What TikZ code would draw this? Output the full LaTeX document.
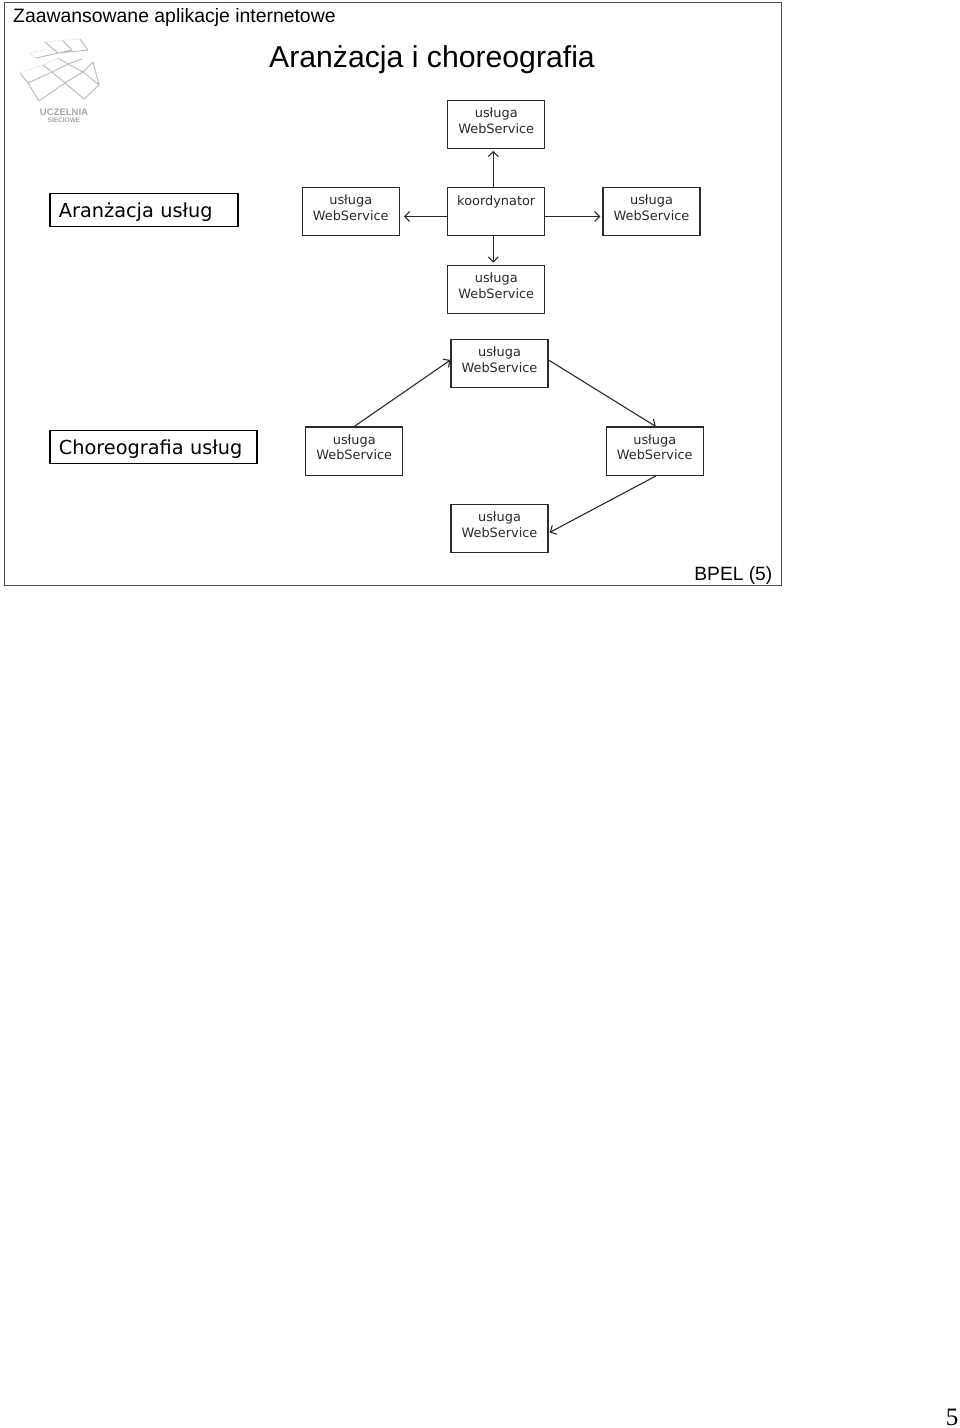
\documentclass[tikz,border=0pt]{standalone}
\usepackage{fontspec}
\setmainfont{Liberation Sans}
\newfontfamily\boxfont{DejaVu Sans}
\newfontfamily\serfont{Liberation Serif}
\usetikzlibrary{arrows.meta}
\definecolor{ink}{HTML}{2A2A2A}
\newcommand{\wstxt}{\begin{tabular}{@{}c@{}}usługa\\WebService\\[4pt]\end{tabular}}
\newcommand{\lowertxt}[1]{\raisebox{0pt}[\dimexpr\height+4pt\relax][\depth]{\hspace*{4pt}#1}}
\tikzset{
  ws/.style={draw=ink,line width=1.1pt,minimum width=97pt,minimum height=48.5pt,inner sep=0pt,align=center,
    font=\boxfont\fontsize{12.9}{15.2}\selectfont,text=ink},
  lab/.style={draw=black,line width=1.9pt,inner sep=0pt,anchor=west,font=\boxfont\fontsize{19.3}{23}\selectfont,text=black},
  arr/.style={draw=ink,line width=1.1pt,-{Straight Barb[length=5pt,width=10pt,line width=1.1pt]}},
  logoline/.style={draw=gray!55,line width=.9pt},
  logodot/.style={draw=gray!40,line width=.7pt,densely dotted}
}
\begin{document}
\begin{tikzpicture}[x=1pt,y=-1pt]
\useasboundingbox (0,0) rectangle (960,1428);
\fill[white] (0,0) rectangle (960,1428);
\node[draw=gray!60!black,line width=1.2pt,minimum width=777pt,minimum height=583pt,inner sep=0pt] (frame) at (393,294) {};
\node[anchor=base west,inner sep=0pt,font=\fontsize{19.4}{22}\selectfont] (head) at (13,22.5) {Zaawansowane aplikacje internetowe};
\node[anchor=base,font=\fontsize{30.2}{35}\selectfont] (title) at (432,67) {Aranżacja i choreografia};
\node[anchor=base east,inner sep=0pt,font=\fontsize{19.2}{23}\selectfont] (bpel) at (772.5,580) {BPEL (5)};
\node[anchor=base east,inner sep=0pt,font=\serfont\fontsize{25}{29}\selectfont] (pg) at (958.5,1425) {5};
% logo
\draw[logoline] (39,101) -- (65,83) -- (83,72) -- (93,62)
  (28,83) -- (52,72) -- (68,64) -- (82,59)
  (20,73) -- (28,83) -- (39,101)
  (43,65) -- (52,72) -- (65,83) -- (84,99)
  (58,58) -- (68,64) -- (83,72) -- (99,85)
  (84,99) -- (99,85) -- (93,62)
  (36,58) -- (58,53) -- (88,50)
  (58,53) -- (72,50)
  (45,42) -- (58,53) (62,40) -- (72,50) (80,39) -- (88,50);
\draw[logodot] (20,73) -- (43,65) -- (58,58) (30,53) -- (45,50) -- (62,50) (45,42) -- (80,39) (30,53) -- (36,58);
\node[font=\fontsize{9.5}{9.5}\selectfont\bfseries,text=gray!70,inner sep=0pt] (logoa) at (64,112) {UCZELNIA};
\node[font=\fontsize{6.5}{6.5}\selectfont\bfseries,text=gray!70,inner sep=0pt] (logob) at (64,120) {SIECIOWE};
% labels
\node[lab,minimum width=188pt,minimum height=33pt,text width=178pt] (l1) at (49,210) {\lowertxt{Aranżacja usług}};
\node[lab,minimum width=207pt,minimum height=33pt,text width=197pt] (l2) at (49,447) {\lowertxt{Choreografia usług}};
% orchestration
\node[ws] (top) at (496.25,124.5) {\wstxt};
\node[ws] (ko) at (496.25,211.5) {\raisebox{22pt}{koordynator}};
\node[ws] (lf) at (350.75,211.5) {\wstxt};
\node[ws] (rt) at (651.5,211.5) {\wstxt};
\node[ws] (bt) at (496.25,289.5) {\wstxt};
\draw[arr] ([xshift=-3pt]ko.north) -- ([xshift=-3pt,yshift=-1.5pt]top.south);
\draw[arr] ([yshift=-5pt]ko.west) -- ([yshift=-5pt,xshift=4pt]lf.east);
\draw[arr] ([yshift=-5pt]ko.east) -- ([yshift=-5pt,xshift=-2pt]rt.west);
\draw[arr] ([xshift=-3pt]ko.south) -- ([xshift=-3pt,yshift=2pt]bt.north);
% choreography
\node[ws] (ctop) at (499.5,363.5) {\wstxt};
\node[ws] (clf) at (354.25,451.25) {\wstxt};
\node[ws] (crt) at (654.75,451.25) {\wstxt};
\node[ws] (cbt) at (499.5,528.5) {\wstxt};
\draw[arr] (clf.north) -- ([yshift=3.5pt]ctop.west);
\draw[arr] ([yshift=3.5pt]ctop.east) -- ([xshift=1pt]crt.north);
\draw[arr] ([xshift=1pt]crt.south) -- ([yshift=-4pt,xshift=1pt]cbt.east);
\end{tikzpicture}
\end{document}
